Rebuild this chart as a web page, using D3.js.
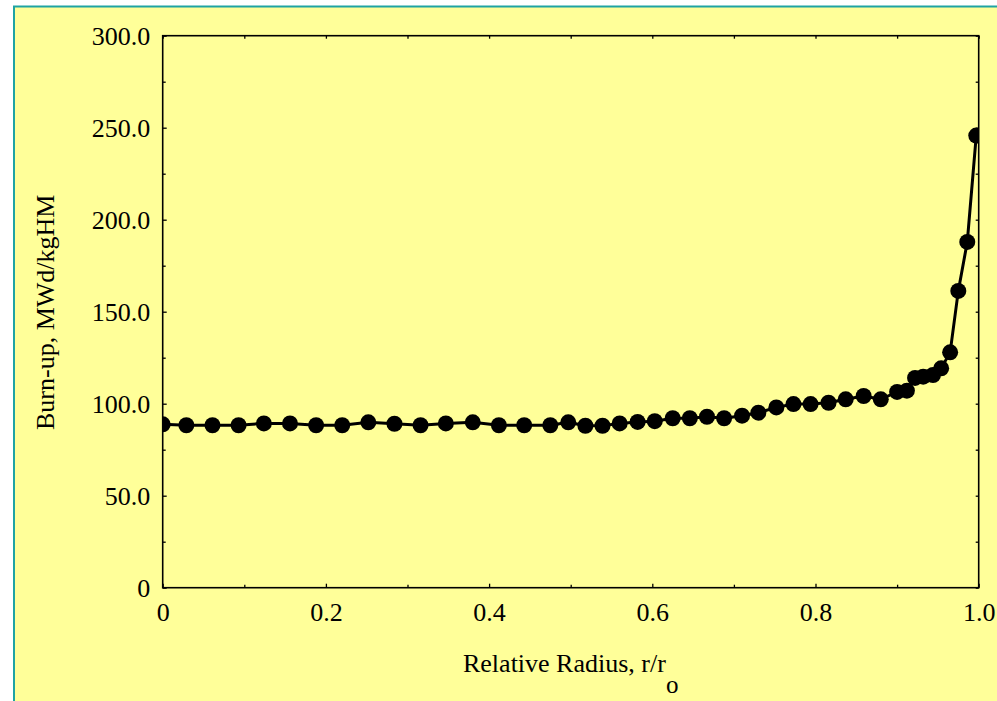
<!DOCTYPE html>
<html>
<head>
<meta charset="utf-8">
<script src="https://cdn.jsdelivr.net/npm/d3@7"></script>
<style>
  body { margin: 0; background: #fff; }
  text { font-family: "Liberation Serif", "Times New Roman", serif; fill: #000; }
</style>
</head>
<body>
<div class="chart"></div>
<script>
// relative radius r/ro and burn-up (MWd/kgHM)
var radius = [0.000, 0.029, 0.061, 0.093, 0.124, 0.156, 0.188, 0.220, 0.252, 0.284,
              0.316, 0.347, 0.380, 0.412, 0.443, 0.475, 0.497, 0.518, 0.539, 0.560,
              0.582, 0.603, 0.625, 0.646, 0.667, 0.688, 0.710, 0.730, 0.752, 0.773,
              0.794, 0.816, 0.837, 0.859, 0.880, 0.900, 0.912, 0.922, 0.932, 0.944,
              0.954, 0.965, 0.975, 0.986, 0.997];
var burnup = [88.8, 88.3, 88.3, 88.3, 89.3, 89.3, 88.3, 88.3, 89.9, 89.1,
              88.3, 89.3, 89.9, 88.3, 88.3, 88.3, 89.9, 88.0, 88.0, 89.3,
              90.1, 90.5, 92.1, 92.1, 92.9, 92.1, 93.5, 95.1, 98.0, 99.8,
              99.8, 100.5, 102.4, 104.2, 102.4, 106.4, 107.1, 114.0, 114.7, 115.6,
              119.2, 127.9, 161.3, 187.9, 245.7];

var xMajor = [0, 0.2, 0.4, 0.6, 0.8, 1.0];
var xMinor = [0.1, 0.3, 0.5, 0.7, 0.9];
var yMajor = [0, 50, 100, 150, 200, 250, 300];
var yMinor = [25, 75, 125, 175, 225, 275];

var svgWidth = 997;
var svgHeight = 701;

var margin = { top: 35.7, right: 18.3, bottom: 113.3, left: 162.7 };
var width = svgWidth - margin.left - margin.right;
var height = svgHeight - margin.top - margin.bottom;

var svg = d3.select(".chart")
    .append("svg")
    .attr("width", svgWidth)
    .attr("height", svgHeight)
    .style("display", "block");

// yellow panel with teal border
svg.append("rect")
    .attr("x", 14)
    .attr("y", 6.5)
    .attr("width", svgWidth + 20)
    .attr("height", svgHeight + 20)
    .attr("fill", "#ffff99")
    .attr("stroke", "#1fa3a3")
    .attr("stroke-width", 2);

var chartGroup = svg.append("g")
    .attr("transform", `translate(${margin.left}, ${margin.top})`);

var xScale = d3.scaleLinear().domain([0, 1]).range([0, width]);
var yScale = d3.scaleLinear().domain([0, 300]).range([height, 0]);

var fmtX = d => d === 0 ? "0" : d3.format(".1f")(d);
var fmtY = d => d === 0 ? "0" : d3.format(".1f")(d);

function styleAxis(g) {
    g.select(".domain").remove();
    g.selectAll("line").attr("stroke", "#000").attr("stroke-width", 1.3);
    g.selectAll("text").attr("font-size", "26px")
        .style("font-family", "'Liberation Serif', 'Times New Roman', serif");
}

// bottom axis
chartGroup.append("g")
    .attr("transform", `translate(0, ${height})`)
    .call(d3.axisBottom(xScale).tickValues(xMajor).tickSizeInner(-4).tickSizeOuter(0)
        .tickPadding(14.5).tickFormat(fmtX))
    .call(styleAxis);
chartGroup.append("g")
    .attr("transform", `translate(0, ${height})`)
    .call(d3.axisBottom(xScale).tickValues(xMinor).tickSizeInner(-3).tickSizeOuter(0)
        .tickFormat(""))
    .call(styleAxis);

// top axis, ticks only
chartGroup.append("g")
    .call(d3.axisTop(xScale).tickValues(xMajor.concat(xMinor)).tickSizeInner(-3)
        .tickSizeOuter(0).tickFormat(""))
    .call(styleAxis);

// left axis
chartGroup.append("g")
    .call(d3.axisLeft(yScale).tickValues(yMajor).tickSizeInner(-4).tickSizeOuter(0)
        .tickPadding(12.5).tickFormat(fmtY))
    .call(styleAxis);
chartGroup.append("g")
    .call(d3.axisLeft(yScale).tickValues(yMinor).tickSizeInner(-3).tickSizeOuter(0)
        .tickFormat(""))
    .call(styleAxis);

// right axis, ticks only
chartGroup.append("g")
    .attr("transform", `translate(${width}, 0)`)
    .call(d3.axisRight(yScale).tickValues(yMajor.concat(yMinor)).tickSizeInner(-3)
        .tickSizeOuter(0).tickFormat(""))
    .call(styleAxis);

// frame
chartGroup.append("rect")
    .attr("width", width)
    .attr("height", height)
    .attr("fill", "none")
    .attr("stroke", "#000")
    .attr("stroke-width", 1.6);

// clip the series to the plot area
chartGroup.append("clipPath")
    .attr("id", "plotClip")
    .append("rect")
    .attr("width", width)
    .attr("height", height);

var seriesGroup = chartGroup.append("g").attr("clip-path", "url(#plotClip)");

var data = radius.map((r, i) => ({ r: r, b: burnup[i] }));

var line = d3.line()
    .x(d => xScale(d.r))
    .y(d => yScale(d.b));

seriesGroup.append("path")
    .datum(data)
    .attr("d", line)
    .attr("fill", "none")
    .attr("stroke", "#000")
    .attr("stroke-width", 3);

seriesGroup.selectAll("circle")
    .data(data)
    .enter()
    .append("circle")
    .attr("cx", d => xScale(d.r))
    .attr("cy", d => yScale(d.b))
    .attr("r", 8)
    .attr("fill", "#000");

// axis titles
var xTitle = svg.append("text")
    .attr("x", margin.left + width / 2)
    .attr("y", 671.7)
    .attr("text-anchor", "middle")
    .attr("font-size", "26px");
xTitle.append("tspan").text("Relative Radius, r/r");
xTitle.append("tspan").attr("dy", 21).attr("font-size", "25px").text("o");

svg.append("text")
    .attr("transform", "translate(53.5, 312.3) rotate(-90)")
    .attr("text-anchor", "middle")
    .attr("font-size", "26px")
    .text("Burn-up, MWd/kgHM");
</script>
</body>
</html>
